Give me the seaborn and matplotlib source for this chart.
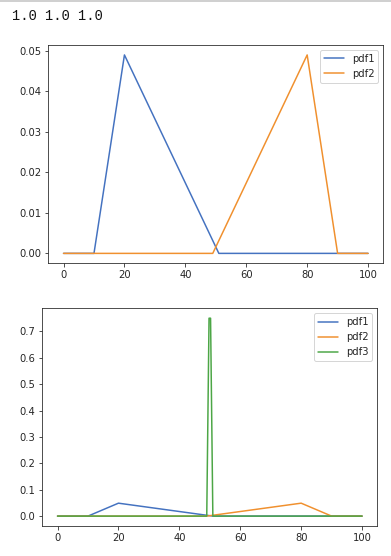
import pandas as pd
import matplotlib.pyplot as plt
import seaborn as sns
from matplotlib.lines import Line2D

# vertices (x, density)
pdf1_x = [0, 10, 20, 51, 100]
pdf1_y = [0, 0, 0.049, 0, 0]

pdf2_x = [0, 49, 80, 90, 100]
pdf2_y = [0, 0, 0.049, 0, 0]

pdf3_x = [0, 49, 49.75, 50.25, 51, 100]
pdf3_y = [0, 0, 0.75, 0.75, 0, 0]

sums_text = "1.0 1.0 1.0"

COLORS = {'pdf1': '#4472c0', 'pdf2': '#f0902e', 'pdf3': '#4ca646'}


def make_df(names):
    parts = []
    for name, xs, ys in names:
        parts.append(pd.DataFrame({'x': xs, 'pdf': ys, 'name': name}))
    return pd.concat(parts, ignore_index=True)


sns.set_style('ticks')

fig = plt.figure(figsize=(391 / 72, 556 / 72), dpi=72)

# notebook output line + cell border
fig.add_artist(Line2D([0, 1], [0.999, 0.999], color='#d0d0d0', lw=2, transform=fig.transFigure))
fig.text(12 / 391, 1 - 15.5 / 556, sums_text, family='Liberation Mono', fontsize=13.8,
         color='#111111', va='center', ha='left')

# top plot: pdf1 and pdf2
ax1 = fig.add_axes([48.3 / 391, 1 - 263.3 / 556, 335 / 391, 218.3 / 556])
df1 = make_df([('pdf1', pdf1_x, pdf1_y), ('pdf2', pdf2_x, pdf2_y)])
sns.lineplot(data=df1, x='x', y='pdf', hue='name', palette=COLORS, estimator=None,
             sort=False, lw=1.5, ax=ax1)
ax1.set_xlabel('')
ax1.set_ylabel('')
ax1.set_xticks([0, 20, 40, 60, 80, 100])
ax1.legend(loc='upper right', fontsize=10)

# bottom plot: all three
ax2 = fig.add_axes([42.3 / 391, 1 - 526 / 556, 335 / 391, 217.7 / 556])
df2 = make_df([('pdf1', pdf1_x, pdf1_y), ('pdf2', pdf2_x, pdf2_y), ('pdf3', pdf3_x, pdf3_y)])
sns.lineplot(data=df2, x='x', y='pdf', hue='name', palette=COLORS, estimator=None,
             sort=False, lw=1.5, ax=ax2)
ax2.set_xlabel('')
ax2.set_ylabel('')
ax2.set_xticks([0, 20, 40, 60, 80, 100])
ax2.legend(loc='upper right', fontsize=10)

for ax in (ax1, ax2):
    ax.tick_params(labelsize=10)

fig.savefig('out.png', dpi=72)
